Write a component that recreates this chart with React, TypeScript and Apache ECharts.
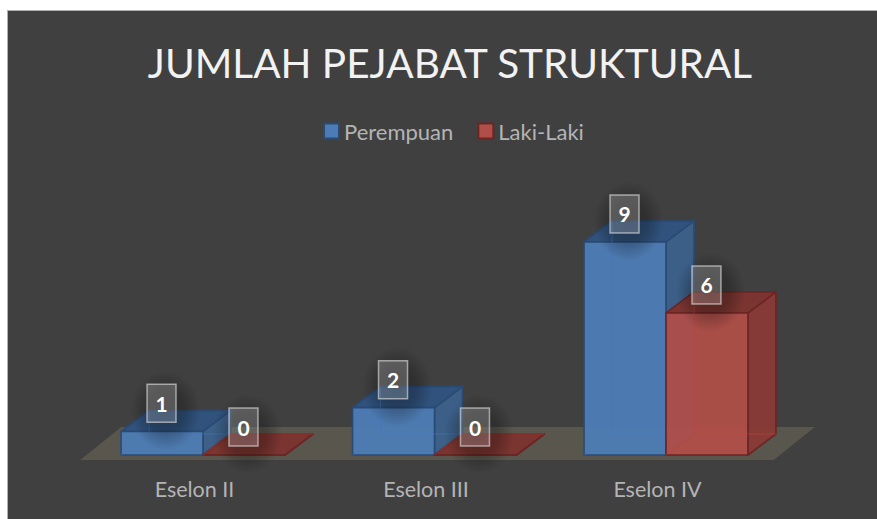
import React, { useEffect, useRef } from "react";
import * as echarts from "echarts";

const titleText = "JUMLAH PEJABAT STRUKTURAL";
const categories = ["Eselon II", "Eselon III", "Eselon IV"];
const perempuan = [1, 2, 9];
const lakiLaki = [0, 0, 6];
const FONT = "Lato, 'Open Sans', sans-serif";

const DX = 28;
const DY = -21;
const BAR_FRAC = 0.354;

type Pal = { front: string; top: string; side: string; edge: string; inner: string };
const blue: Pal = {
  front: "rgba(76,124,182,0.94)",
  top: "#30527C",
  side: "rgba(60,96,138,0.97)",
  edge: "#2A4A74",
  inner: "rgba(70,120,190,0.55)",
};
const red: Pal = {
  front: "rgba(178,78,72,0.92)",
  top: "#7B3530",
  side: "rgba(136,58,55,0.97)",
  edge: "#6C2523",
  inner: "rgba(195,70,65,0.5)",
};

const glow = () =>
  new echarts.graphic.RadialGradient(0.5, 0.5, 0.5, [
    { offset: 0, color: "rgba(0,0,0,0.32)" },
    { offset: 0.55, color: "rgba(0,0,0,0.24)" },
    { offset: 1, color: "rgba(0,0,0,0)" },
  ]);

function barRenderer(pal: Pal, dir: number) {
  return (_params: any, api: any) => {
    const cat = api.value(0);
    const val = api.value(1);
    const base = api.coord([cat, 0]);
    const top = api.coord([cat, val]);
    const w = api.size([1, 0])[0] * BAR_FRAC;
    const x0 = dir < 0 ? base[0] - w : base[0];
    const x1 = x0 + w;
    const yb = base[1];
    const yt = top[1];
    const edge = { stroke: pal.edge, lineWidth: 1.6, lineJoin: "round" };
    const cx = (x0 + x1) / 2 - 0.5;
    const cy = yt - 28;
    const innerStyle = { stroke: pal.inner, lineWidth: 1 };
    return {
      type: "group",
      children: [
        {
          type: "polygon",
          shape: { points: [[x1, yt], [x1 + DX, yt + DY], [x1 + DX, yb + DY], [x1, yb]] },
          style: { fill: pal.side, ...edge },
        },
        {
          type: "polygon",
          shape: { points: [[x0, yt], [x0 + DX, yt + DY], [x1 + DX, yt + DY], [x1, yt]] },
          style: { fill: pal.top, ...edge },
        },
        {
          type: "rect",
          shape: { x: x0, y: yt, width: w, height: yb - yt },
          style: { fill: pal.front, ...edge },
        },
        {
          type: "line",
          shape: { x1: x0 + DX, y1: yb + DY, x2: x0 + DX, y2: yt + DY },
          style: innerStyle,
        },
        {
          type: "line",
          shape: { x1: x0 + DX, y1: yb + DY, x2: x1 + DX, y2: yb + DY },
          style: innerStyle,
        },
        {
          type: "line",
          shape: { x1: x0 + DX, y1: yb + DY, x2: x0, y2: yb },
          style: innerStyle,
        },
        {
          type: "rect",
          shape: { x: cx - 31, y: cy - 33, width: 70, height: 80 },
          style: { fill: glow() },
        },
        {
          type: "rect",
          shape: { x: cx - 14.5, y: cy - 19, width: 29, height: 38 },
          style: {
            fill: "rgba(255,255,255,0.2)",
            stroke: "rgba(217,217,217,0.65)",
            lineWidth: 1.5,
          },
        },
        {
          type: "text",
          x: cx,
          y: cy,
          style: {
            text: String(val),
            fill: "#FFFFFF",
            font: `bold 21px ${FONT}`,
            textAlign: "center",
            textVerticalAlign: "middle",
          },
        },
      ],
    };
  };
}

function floorRenderer(_params: any, api: any) {
  const left = api.coord([0, 0]);
  const right = api.coord([categories.length - 1, 0]);
  const half = api.size([1, 0])[0] / 2;
  const xl = left[0] - half - 7;
  const xr = right[0] + half - 8;
  const yf = left[1] + 5;
  const yk = left[1] - 28;
  return {
    type: "polygon",
    shape: { points: [[xl, yf], [xr, yf], [xr + 41, yk], [xl + 41, yk]] },
    style: { fill: "#59564D" },
  };
}

const option: any = {
  animation: false,
  backgroundColor: "transparent",
  title: {
    text: titleText,
    left: 445,
    top: 37,
    textAlign: "center",
    textStyle: { color: "#F2F2F2", fontFamily: FONT, fontSize: 40.5, fontWeight: "normal" },
  },
  legend: {
    data: ["Perempuan", "Laki-Laki"],
    left: 318,
    top: 115,
    icon: "rect",
    itemWidth: 15,
    itemHeight: 15,
    itemGap: 24,
    textStyle: { color: "#B4B4B4", fontFamily: FONT, fontSize: 22 },
  },
  grid: { left: 87.25, right: 95.25, top: 218.3, bottom: 64 },
  xAxis: {
    type: "category",
    data: categories,
    axisLine: { show: false },
    axisTick: { show: false },
    axisLabel: { color: "#B4B4B4", fontFamily: FONT, fontSize: 21.5, margin: 23, padding: [0, 17, 0, 0] },
  },
  yAxis: { type: "value", min: 0, max: 10, show: false },
  series: [
    {
      type: "custom",
      name: "floor",
      silent: true,
      renderItem: floorRenderer,
      data: [[0, 0]],
      encode: { x: 0, y: 1 },
      z: 1,
    },
    {
      type: "custom",
      name: "Perempuan",
      renderItem: barRenderer(blue, -1),
      data: perempuan.map((v, i) => [i, v]),
      encode: { x: 0, y: 1 },
      itemStyle: { color: "#4C7CB6", borderColor: "#2A4A74", borderWidth: 1.6 },
      z: 2,
    },
    {
      type: "custom",
      name: "Laki-Laki",
      renderItem: barRenderer(red, 1),
      data: lakiLaki.map((v, i) => [i, v]),
      encode: { x: 0, y: 1 },
      itemStyle: { color: "#B04E48", borderColor: "#6C2523", borderWidth: 1.6 },
      z: 3,
    },
  ],
};

export default function App() {
  const ref = useRef<HTMLDivElement>(null);
  useEffect(() => {
    const chart = echarts.init(ref.current!, undefined, { renderer: "svg" });
    chart.setOption(option);
    return () => chart.dispose();
  }, []);
  return (
    <div style={{ position: "fixed", left: 0, top: 0, width: 877, height: 519, background: "#FFFFFF", overflow: "hidden" }}>
      <div
        style={{
          position: "absolute",
          left: 7,
          top: 10,
          width: 870,
          height: 509,
          boxSizing: "border-box",
          background: "#404040",
          borderLeft: "1px solid #B0B0B0",
          borderTop: "1px solid #B0B0B0",
        }}
      />
      <div ref={ref} style={{ position: "absolute", left: 0, top: 0, width: 877, height: 519 }} />
    </div>
  );
}
